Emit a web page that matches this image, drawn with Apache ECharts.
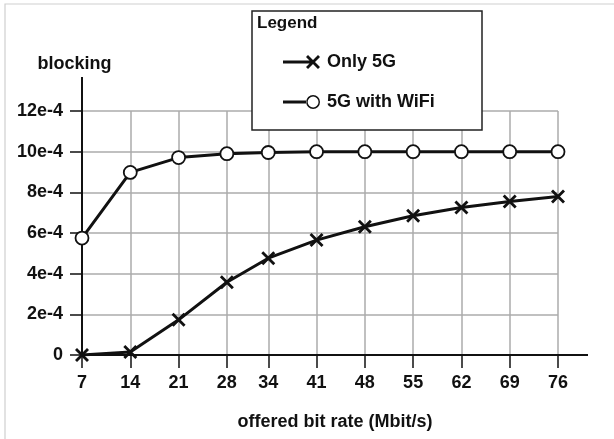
<!DOCTYPE html>
<html>
<head>
<meta charset="utf-8">
<script src="https://cdn.jsdelivr.net/npm/echarts@6/dist/echarts.min.js"></script>
<style>
html,body{margin:0;padding:0;background:#fff;}
#chart{width:614px;height:439px;}
</style>
</head>
<body>
<div id="chart"></div>
<script>
// Data
var bitRates = [7, 14, 21, 28, 34, 41, 48, 55, 62, 69, 76];
var only5G = [0, 0.15e-4, 1.73e-4, 3.58e-4, 4.76e-4, 5.65e-4, 6.31e-4, 6.85e-4, 7.25e-4, 7.55e-4, 7.8e-4];
var withWiFi = [5.75e-4, 8.98e-4, 9.71e-4, 9.9e-4, 9.96e-4, 10e-4, 10e-4, 10e-4, 10e-4, 10e-4, 10e-4];
var yTicks = [0, 2e-4, 4e-4, 6e-4, 8e-4, 10e-4, 12e-4];
var seriesNames = ['Only 5G', '5G with WiFi'];
var legendTitle = 'Legend';
var xName = 'offered bit rate (Mbit/s)';
var yName = 'blocking';

var FONT = "'Liberation Sans', Arial, Helvetica, sans-serif";
var TXT = '#111';

function pairs(xs, ys) { return xs.map(function (x, i) { return [x, ys[i]]; }); }
function yLabel(v) {
  var n = Math.round(v * 1e4);
  return n === 0 ? '0' : n + 'e-4';
}

var xMarker = 'path://M2,0L14,12L12,14L0,2Z M12,0L14,2L2,14L0,12Z';
var iconX = 'path://M0,5.5H29V8.5H0Z M25,0L37,12L35,14L23,2Z M35,0L37,2L25,14L23,12Z';
var iconO = 'path://M0,5.5H24V8.5H0Z M37.5,7A7,7 0 1,0 23.5,7A7,7 0 1,0 37.5,7Z M36,7A5.5,5.5 0 1,1 25,7A5.5,5.5 0 1,1 36,7Z';

var chart = echarts.init(document.getElementById('chart'), null, {renderer: 'canvas'});
chart.setOption({
  animation: false,
  backgroundColor: '#fff',
  textStyle: {fontFamily: FONT},
  grid: {left: 82, right: 56, top: 111, bottom: 84, containLabel: false},
  title: {
    text: legendTitle, left: 257, top: 15, padding: 0, z: 10,
    textStyle: {fontFamily: FONT, fontSize: 17, fontWeight: 'bold', color: TXT}
  },
  legend: {
    orient: 'vertical', left: 283, top: 52, padding: 0, z: 10,
    itemWidth: 37, itemHeight: 14, itemGap: 20,
    textStyle: {fontFamily: FONT, fontSize: 18, fontWeight: 'bold', color: TXT, lineHeight: 20, padding: [0, 0, 0, 2]},
    data: [
      {name: seriesNames[0], icon: iconX, itemStyle: {color: '#111', borderWidth: 0}},
      {name: seriesNames[1], icon: iconO, itemStyle: {color: '#111', borderWidth: 0}}
    ]
  },
  xAxis: {
    type: 'value', min: 7, max: 76,
    name: xName, nameLocation: 'middle', nameGap: 58,
    nameTextStyle: {fontFamily: FONT, fontSize: 18, fontWeight: 'bold', color: TXT, padding: [0, 0, 0, 30]},
    axisLine: {show: true, onZero: false, lineStyle: {color: '#111', width: 2}},
    axisTick: {show: true, length: 13, customValues: bitRates, lineStyle: {color: '#111', width: 1.5}},
    axisLabel: {customValues: bitRates, margin: 19, fontFamily: FONT, fontSize: 18, fontWeight: 'bold', color: TXT},
    splitLine: {show: true, lineStyle: {color: '#ababab', width: 1.5}}
  },
  yAxis: {
    type: 'value', min: 0, max: 12e-4, interval: 2e-4,
    name: yName, nameLocation: 'end', nameGap: 38,
    nameTextStyle: {fontFamily: FONT, fontSize: 18, fontWeight: 'bold', color: TXT, padding: [0, 15, 0, 0]},
    axisLine: {show: true, lineStyle: {color: '#111', width: 2}},
    axisTick: {show: true, length: 12, lineStyle: {color: '#111', width: 1.5}},
    axisLabel: {margin: 19, formatter: yLabel, fontFamily: FONT, fontSize: 18, fontWeight: 'bold', color: TXT},
    splitLine: {show: true, lineStyle: {color: '#ababab', width: 1.5}}
  },
  graphic: [
    {type: 'rect', z: 0, silent: true, shape: {x: 5, y: 4, width: 700, height: 600},
      style: {fill: 'none', stroke: '#cfcfcf', lineWidth: 1.2}},
    {type: 'rect', z: 5, silent: true, shape: {x: 252, y: 11, width: 230, height: 119},
      style: {fill: '#fff', stroke: '#222', lineWidth: 1.5}},
    {type: 'line', z: 5, silent: true, shape: {x1: 82, y1: 112, x2: 82, y2: 77},
      style: {stroke: '#111', lineWidth: 2}},
    {type: 'line', z: 5, silent: true, shape: {x1: 557, y1: 355, x2: 588, y2: 355},
      style: {stroke: '#111', lineWidth: 2}}
  ],
  series: [
    {
      name: seriesNames[0], type: 'line', data: pairs(bitRates, only5G),
      symbol: xMarker, symbolSize: 14, z: 3,
      lineStyle: {color: '#111', width: 3},
      itemStyle: {color: '#111', borderWidth: 0}
    },
    {
      name: seriesNames[1], type: 'line', data: pairs(bitRates, withWiFi),
      symbol: 'circle', symbolSize: 13, z: 3,
      lineStyle: {color: '#111', width: 3},
      itemStyle: {color: '#fff', borderColor: '#111', borderWidth: 1.8}
    }
  ]
});
</script>
</body>
</html>
